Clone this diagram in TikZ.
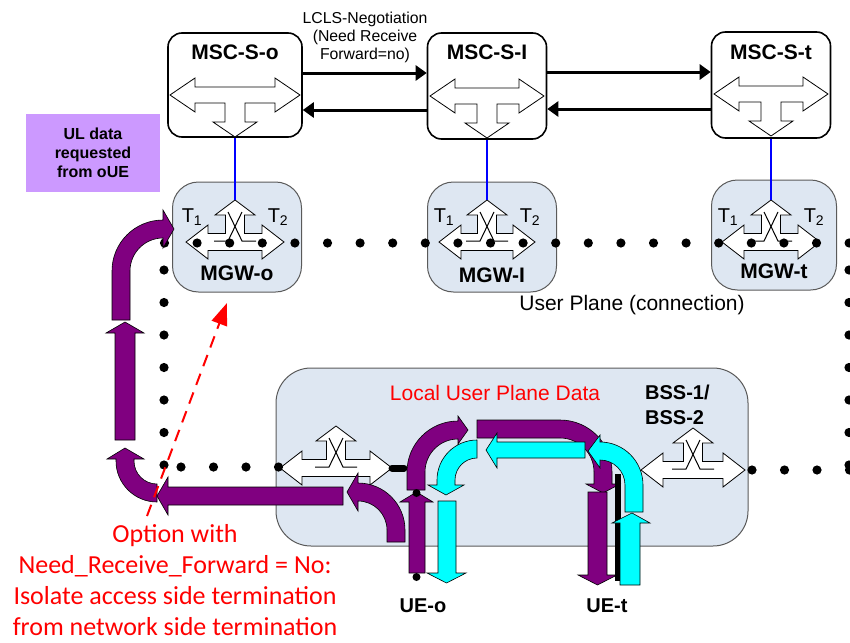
\documentclass[tikz,border=0pt]{standalone}
\usepackage{fontspec}
\setmainfont{Liberation Sans}
\newfontfamily\calibri{Carlito}
\usetikzlibrary{arrows.meta,positioning}

\definecolor{boxblue}{RGB}{222,231,242}
\definecolor{uePurple}{RGB}{128,0,128}
\definecolor{ueCyan}{RGB}{0,255,255}
\definecolor{ulviolet}{RGB}{204,153,255}
\definecolor{edgegray}{RGB}{90,90,90}

\tikzset{
  % switch symbol inside the MSC servers (left, right, down)
  pics/msctriple/.style={code={
    \draw[switchline] (-#1,0) -- ({-#1+25},-17) -- ({-#1+25},-8) -- ({#1-25},-8) -- ({#1-25},-17) -- (#1,0)
      -- ({#1-25},17) -- ({#1-25},8) -- (10,8) -- (10,27) -- (22,27) -- (0,42) -- (-22,27) -- (-10,27)
      -- (-10,8) -- ({-#1+25},8) -- ({-#1+25},17) -- cycle;
    \coordinate (-bottom) at (0,42);
  }},
  % switch symbol inside MGW / BSS (left, right, up, crossing)
  pics/mgwtee/.style={code={
    \draw[switchline] (-#1,0) -- ({-#1+22},-17) -- ({-#1+22},-8.5) -- (-9.5,-8.5) -- (-9.5,-27) -- (-20,-27)
      -- (0,-42) -- (20,-27) -- (9.5,-27) -- (9.5,-8.5) -- ({#1-22},-8.5) -- ({#1-22},-17) -- (#1,0)
      -- ({#1-22},17) -- ({#1-22},8.5) -- ({-#1+22},8.5) -- ({-#1+22},17) -- cycle;
    \draw[line width=1pt] (-7,-30) -- (7,-1) -- (21,-1);
    \draw[line width=1pt] (7,-30) -- (-7,-1) -- (-21,-1);
    \coordinate (-c) at (0,0);
    \coordinate (-top) at (0,-42);
    \coordinate (-west) at (-#1,0);
    \coordinate (-east) at (#1,0);
  }}
}

\begin{document}
\begin{tikzpicture}[x=1pt, y=-1pt,
  msc/.style={draw, line width=1.6pt, rounded corners=14pt, fill=white,
    minimum width=119pt, minimum height=106pt},
  mgw/.style={draw=edgegray, line width=1pt, rounded corners=26pt, fill=boxblue,
    minimum width=129pt, minimum height=110pt},
  bss/.style={draw=edgegray, line width=1pt, rounded corners=35pt, fill=boxblue,
    minimum width=472pt, minimum height=178pt},
  switchline/.style={draw=black, fill=white, line width=0.8pt},
  nettitle/.style={font=\fontsize{21}{25}\selectfont\bfseries, inner sep=1pt},
  tlabel/.style={font=\fontsize{20}{24}\selectfont, inner sep=0pt},
  uldata/.style={fill=ulviolet, align=center, minimum width=134pt, minimum height=78pt,
    font=\fontsize{16}{19}\selectfont\bfseries},
  sigarrow/.style={line width=3pt, -{Triangle[length=11pt,width=15pt]}},
  blueline/.style={blue, line width=2.6pt},
  udot/.style={fill=black},
  upath/.style={fill=uePurple, draw=black, line width=0.6pt},
  cpath/.style={fill=ueCyan, draw=black, line width=0.6pt},
  optarrow/.style={red, line width=2pt, dash pattern=on 12pt off 8pt,
    -{Triangle[length=22pt,width=16pt]}}]

\useasboundingbox (0,0) rectangle (850,642);

% MSC servers
\node[msc, minimum width=134pt, minimum height=104pt] (mscso) at (235,85) {};
\node[msc] (mscsi) at (487,86) {};
\node[msc] (mscst) at (771,85) {};
\node[nettitle] (mscsoname) at ([yshift=-20pt]mscso.north) {MSC-S-o};
\node[nettitle] (mscsiname) at ([yshift=-20pt]mscsi.north) {MSC-S-I};
\node[nettitle] (mscstname) at ([yshift=-21pt]mscst.north) {MSC-S-t};
\pic at (235,95) {msctriple=65};
\pic at (487,96) {msctriple=57};
\pic at (771,94) {msctriple=57};

\draw[sigarrow] (mscso.east |- 0,73) -- (mscsi.west |- 0,73);
\draw[sigarrow] (mscsi.west |- 0,110) -- (mscso.east |- 0,110);
\draw[sigarrow] (mscsi.east |- 0,72) -- (mscst.west |- 0,72);
\draw[sigarrow] (mscst.west |- 0,109) -- (mscsi.east |- 0,109);
\node[align=center, font=\fontsize{15.8}{18}\selectfont] (lclsneg) at (365,37)
  {LCLS-Negotiation\\(Need Receive\\Forward=no)};

\node[uldata] (ulreq) at (93,153) {UL data\\requested\\from oUE};

% media gateways
\node[mgw] (mgwo) at (237,237) {};
\node[mgw] (mgwi) at (492,237) {};
\node[mgw, minimum width=125pt] (mgwt) at (774,235) {};
\pic (swo) at (235,242) {mgwtee=49};
\pic (swi) at (487,242) {mgwtee=48};
\pic (swt) at (771,242) {mgwtee=49};
\foreach \sw in {swo,swi,swt} {
  \node[tlabel] (\sw-t1) at ([shift={(-43,-25)}]\sw-c) {T\textsubscript{1}};
  \node[tlabel] (\sw-t2) at ([shift={(43,-25)}]\sw-c) {T\textsubscript{2}};
}
\node[nettitle] (mgwoname) at ([yshift=19pt]mgwo.south) {MGW-o};
\node[nettitle] (mgwiname) at ([yshift=17pt]mgwi.south) {MGW-I};
\node[nettitle] (mgwtname) at ([yshift=19pt]mgwt.south) {MGW-t};

\draw[blueline] (mscso.south) -- (swo-top);
\draw[blueline] (mscsi.south) -- (swi-top);
\draw[blueline] (mscst.south) -- (swt-top);

% radio side
\node[bss] (bss) at (512,457) {};
\pic (bssl) at (336,468) {mgwtee=56};
\pic (bssr) at (693,470) {mgwtee=52};
\node[font=\fontsize{20}{25}\selectfont\bfseries, align=left, anchor=west, inner sep=0pt]
  (bssname) at (645,405) {BSS-1/\\BSS-2};
\node[text=red, font=\fontsize{21}{25}\selectfont] (localup) at (495,393) {Local User Plane Data};

% user plane dots
\foreach \k in {0,...,21}
  \fill[udot] ({164.5+32.6*\k},243) circle[radius=4.6pt];
\foreach \y in {270,302.5,...,466} {
  \fill[udot] (164,\y) circle[radius=4.6pt];
  \fill[udot] (849,\y) circle[radius=4.6pt];
}
\foreach \x in {181,213.5,...,280}
  \fill[udot] (\x,467) circle[radius=4.6pt];
\foreach \x in {752,784.5,...,851}
  \fill[udot] (\x,470) circle[radius=4.6pt];
\node[font=\fontsize{21}{25}\selectfont] (uplane) at (632,305) {User Plane (connection)};

% uplink loop back through MGW-o
\draw[upath] (112,320) -- (112,271) .. controls (112,242.8) and (134.8,220) .. (163,220) -- (163,210)
  -- (174,229) -- (163,248) -- (163,238) .. controls (144.8,238) and (130,252.8) .. (130,271) -- (130,320) -- cycle;
\draw[upath] (115,440) -- (115,333) -- (106,333) -- (125,322) -- (144,333) -- (135,333) -- (135,440) -- cycle;
\draw[upath] (157,502) .. controls (134.4,502) and (116,483.6) .. (116,461) -- (116,459) -- (107,459)
  -- (125,448) -- (144,459) -- (134,459) -- (134,461) .. controls (134,473.7) and (144.3,484) .. (157,484) -- cycle;
\draw[upath] (343,487) -- (168,487) -- (168,477) -- (157,496) -- (168,515) -- (168,505) -- (343,505) -- cycle;
\draw[upath] (405,542) -- (405,530) .. controls (405,504) and (384,483) .. (358,483) -- (358,473) -- (347,492)
  -- (358,511) -- (358,501) .. controls (374,501) and (387,514) .. (387,530) -- (387,542) -- cycle;

% local switching, purple
\draw[line width=7pt, line cap=round] (bssl-east) -- ++(12,0);
\draw[upath] (409,573) -- (409,502) -- (400,502) -- (416.5,492) -- (433,502) -- (425,502) -- (425,573) -- cycle;
\draw[upath] (407,490) -- (407,472) .. controls (407,443.8) and (429.8,421) .. (458,421) -- (458,416)
  -- (468,430) -- (458,444) -- (458,439) .. controls (439.8,439) and (425,453.8) .. (425,472) -- (425,490) -- cycle;
\fill[udot] (416.5,577) circle[radius=4pt];
\fill[udot] (416.5,493) circle[radius=4pt];
\draw[upath] (477,420) -- (560,420) .. controls (588.7,420) and (612,443.3) .. (612,472) -- (612,484) -- (620,484)
  -- (603,493) -- (586,484) -- (594,484) -- (594,472) .. controls (594,453.2) and (578.8,438) .. (560,438) -- (477,438) -- cycle;
\draw[upath] (588,492) -- (588,575) -- (578,575) -- (597.5,585) -- (617,575) -- (607,575) -- (607,492) -- cycle;
\draw[line width=6pt] (618,474) -- (618,581);

% local switching, cyan
\draw[cpath] (585,442) -- (497,442) -- (497,433) -- (486,450) -- (497,468) -- (497,458) -- (585,458) -- cycle;
\draw[cpath] (477,440) .. controls (454.9,440) and (437,457.9) .. (437,480) -- (437,485) -- (428,485)
  -- (446,495) -- (464,485) -- (455,485) -- (455,480) .. controls (455,467.9) and (464.9,458) .. (477,458) -- cycle;
\draw[cpath] (438,501) -- (438,573) -- (427,573) -- (446.5,583) -- (466,573) -- (456,573) -- (456,501) -- cycle;
\draw[cpath] (643,512) -- (643,485) .. controls (643,461.3) and (623.7,442) .. (600,442) -- (600,435) -- (588,451)
  -- (600,468) -- (600,460) .. controls (613.8,460) and (625,471.2) .. (625,485) -- (625,512) -- cycle;
\draw[cpath] (620,585) -- (620,523) -- (612,523) -- (632,513) -- (650,523) -- (640,523) -- (640,585) -- cycle;

\node[font=\fontsize{20}{24}\selectfont\bfseries] (ueo) at (423,606) {UE-o};
\node[font=\fontsize{20}{24}\selectfont\bfseries] (uet) at (607,606) {UE-t};

% option note
\coordinate (optstart) at (147,516);
\coordinate (optend) at (227,303);
\draw[optarrow] (optstart) -- (optend);
\node[text=red, align=center, inner sep=1pt, font=\calibri\fontsize{26}{31}\selectfont] (needrecv) at (175,580)
  {Option with\\Need\_Receive\_Forward = No:\\Isolate access side termination\\from network side termination};
\end{tikzpicture}
\end{document}
